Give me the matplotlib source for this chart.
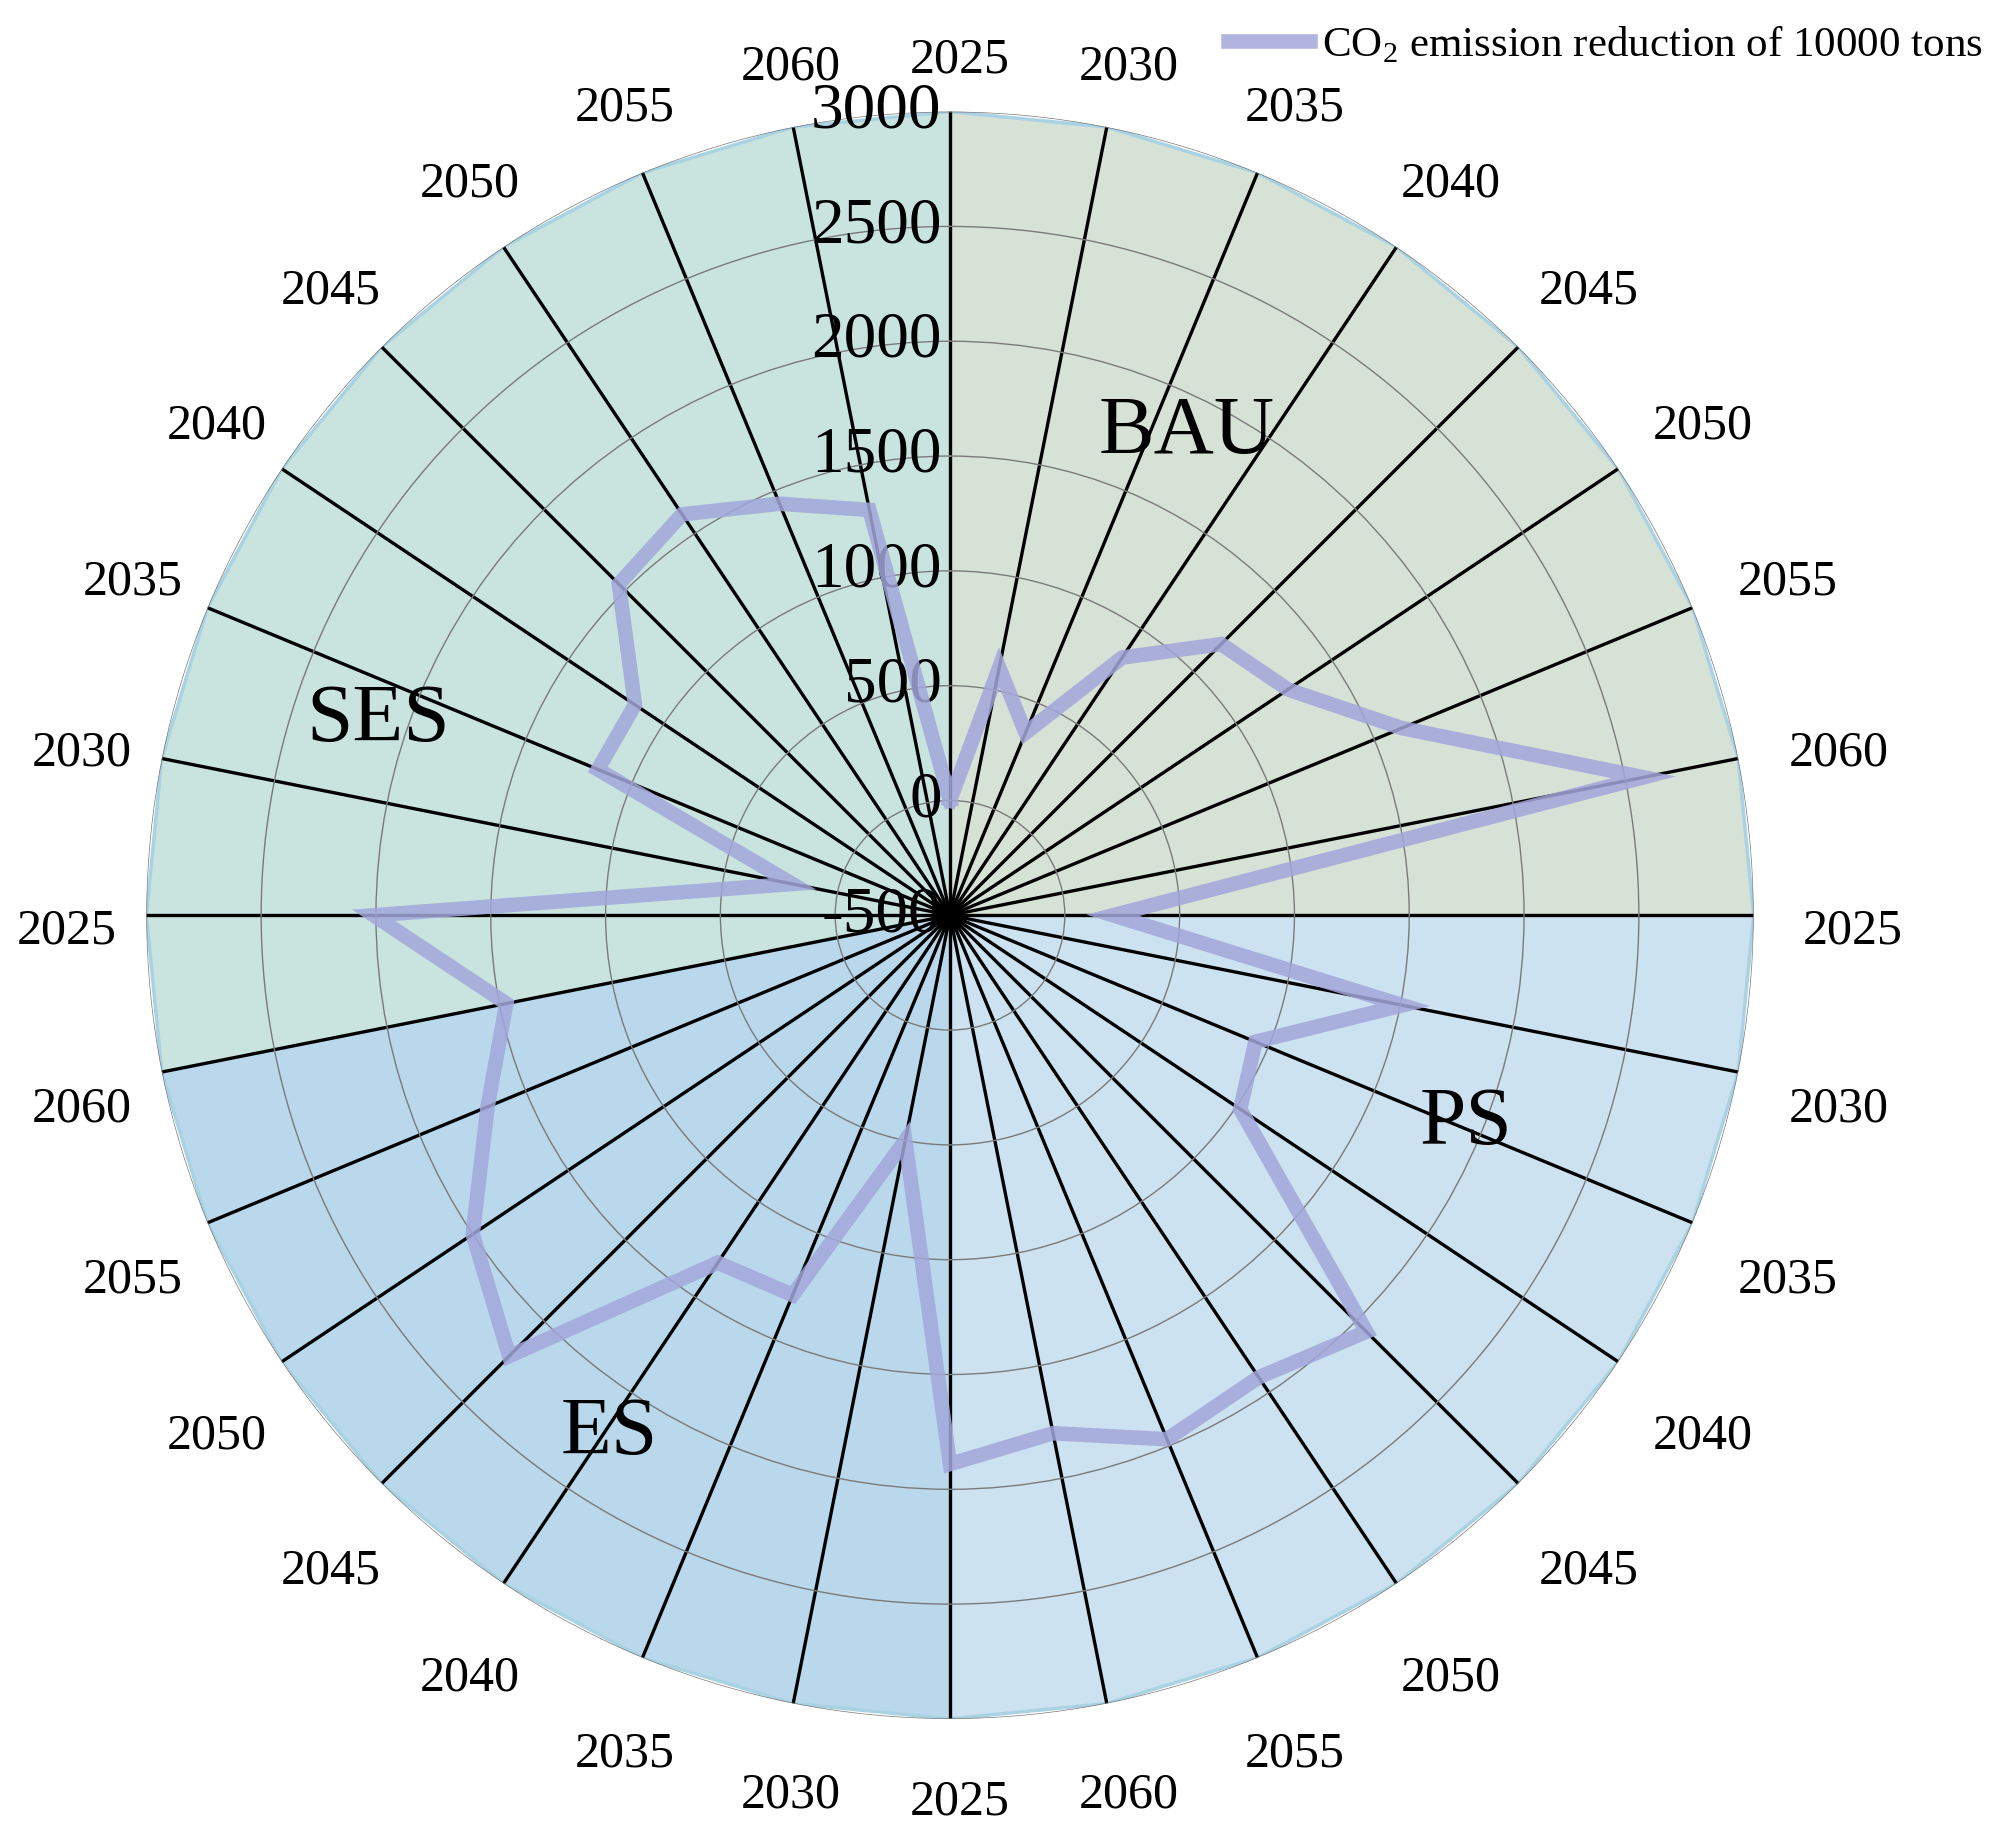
import numpy as np
import matplotlib
matplotlib.use("Agg")
import matplotlib.pyplot as plt

plt.rcParams['font.family'] = ['Liberation Serif', 'DejaVu Serif']
plt.rcParams['mathtext.fontset'] = 'custom'
plt.rcParams['mathtext.rm'] = 'Liberation Serif'

# data (10000 tons of CO2)
years = ['2025', '2030', '2035', '2040', '2045', '2050', '2055', '2060']
scenarios = ['BAU', 'PS', 'ES', 'SES']
bau = [0, 600, 360, 850, 1170, 1270, 1630, 2580]
ps = [210, 1510, 940, 1020, 2065, 1920, 1970, 1800]
es = [1890, 500, 1290, 1320, 2215, 2000, 1680, 1470]
ses = [2010, 200, 1160, 1150, 1540, 1600, 1440, 1300]
r_ticks = [-500, 0, 500, 1000, 1500, 2000, 2500, 3000]

values = bau + ps + es + ses
labels = years * 4
n = len(values)
angles = np.linspace(0, 2 * np.pi, n, endpoint=False)

fig = plt.figure(figsize=(20, 18.39), dpi=100)
ax = fig.add_axes([0.073, 0.0653, 0.804, 0.874], projection='polar')
ax.set_theta_zero_location('N')
ax.set_theta_direction(-1)
ax.set_ylim(r_ticks[0], r_ticks[-1])

# background sectors (index ranges of spokes)
sectors = [(0, 8, '#d7e2d7'), (8, 16, '#cce2f0'), (16, 23, '#b9d8eb'), (23, 32, '#c9e4df')]
full = np.r_[angles, 2 * np.pi]
for i0, i1, col in sectors:
    th = full[i0:i1 + 1]
    ax.fill(np.r_[th[0], th, th[-1]], np.r_[r_ticks[0], [r_ticks[-1]] * len(th), r_ticks[0]],
            color=col, zorder=0.5, lw=0)
ax.plot(full, [r_ticks[-1]] * len(full), color='#a9d2e2', lw=2.5, zorder=0.6)

ax.set_xticks(angles)
ax.set_xticklabels([])
ax.set_yticks(r_ticks[1:])
ax.set_yticklabels([])
ax.xaxis.grid(True, color='black', lw=2.4)
ax.yaxis.grid(True, color='#7a7a7a', lw=1.0)
ax.spines['polar'].set_visible(False)
ax.set_facecolor('none')
ax.tick_params(length=0)

# data line
ax.plot(np.r_[angles, angles[0]], values + values[:1], color='#a2a7da', lw=10.5, alpha=0.85,
        solid_joinstyle='miter', zorder=3, label='CO$_2$ emission reduction of 10000 tons')

# radial labels along the top spoke
for v in r_ticks:
    ax.annotate(str(v), xy=(0, v), xytext=(-6, 0), textcoords='offset points',
                ha='right', va='center', fontsize=47, zorder=2)

# year labels round the outside
px = 100 / 72
for a, lab in zip(angles, labels):
    s, c = np.sin(a), np.cos(a)
    half = 56 * abs(s) + 18 * abs(c)
    ox = (33.5 + half) * s + 10
    oy = (49 + half) * c - 16
    ax.annotate(lab, xy=(a, r_ticks[-1]), xytext=(ox / px, oy / px),
                textcoords='offset points', ha='center', va='center', fontsize=36,
                annotation_clip=False)

# scenario names
pos = {'BAU': (0.647, 0.800), 'PS': (0.821, 0.370), 'ES': (0.288, 0.177), 'SES': (0.144, 0.621)}
for name in scenarios:
    ax.text(*pos[name], name, transform=ax.transAxes, ha='center', va='center', fontsize=60, zorder=4)

fig.legend(loc='upper right', bbox_to_anchor=(1.011, 1.008), frameon=False, fontsize=31,
           handlelength=1.9, handletextpad=0.3)

fig.savefig('out.png', dpi=100)
